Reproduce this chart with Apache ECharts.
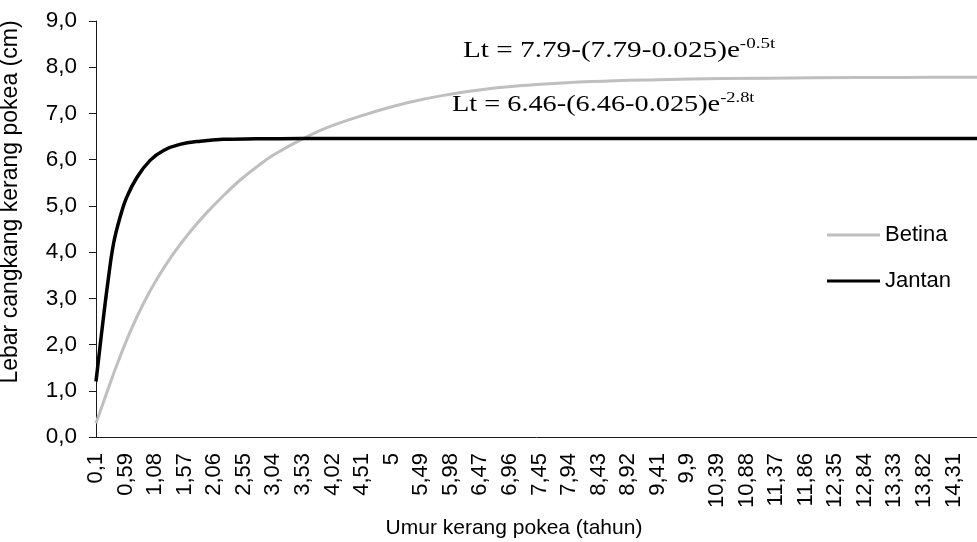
<!DOCTYPE html>
<html>
<head>
<meta charset="utf-8">
<script src="https://cdn.jsdelivr.net/npm/echarts@6/dist/echarts.min.js"></script>
<style>
  html, body { margin: 0; padding: 0; background: #fff; }
  #chart { width: 977px; height: 542px; }
</style>
</head>
<body>
<div id="chart"></div>
<script type="text/javascript">
    // x categories: age in years, 0,1 ... 14,7 in steps of 0,01
    var ageStart = 0.1, ageStep = 0.01, ageEnd = 14.7;
    var xTickLabels = ['0,1','0,59','1,08','1,57','2,06','2,55','3,04','3,53','4,02','4,51','5',
        '5,49','5,98','6,47','6,96','7,45','7,94','8,43','8,92','9,41','9,9','10,39','10,88',
        '11,37','11,86','12,35','12,84','13,33','13,82','14,31'];
    var yTicks = [0, 1, 2, 3, 4, 5, 6, 7, 8, 9];

    // values (age, width in cm)
    var betinaAge = [0.1, 0.28, 0.44, 0.66, 0.89, 1.11, 1.38, 1.66, 1.94, 2.21, 2.49, 2.77, 3.04,
        3.54, 3.98, 4.7, 5.26, 5.81, 6.64, 7.47, 8.3, 9.41, 10.5, 12, 13.5, 14.7];
    var betinaLen = [0.30, 0.96, 1.54, 2.26, 2.90, 3.42, 3.96, 4.44, 4.86, 5.22, 5.56, 5.85, 6.10,
        6.46, 6.72, 7.03, 7.23, 7.38, 7.54, 7.63, 7.69, 7.73, 7.755, 7.77, 7.78, 7.785];
    var jantanAge = [0.1, 0.22, 0.3, 0.39, 0.5, 0.61, 0.78, 1.0, 1.22, 1.49, 1.83, 2.21, 2.77, 3.5, 14.7];
    var jantanLen = [1.20, 2.55, 3.38, 4.18, 4.76, 5.19, 5.62, 5.99, 6.20, 6.33, 6.40, 6.44, 6.45, 6.46, 6.46];

    function fmt(v) { return String(+v.toFixed(2)).replace('.', ','); }

    var categories = [];
    var n = Math.round((ageEnd - ageStart) / ageStep);
    for (var i = 0; i <= n; i++) categories.push(fmt(ageStart + i * ageStep));

    function pairs(ages, vals) {
        return ages.map(function (a, k) { return [fmt(a), vals[k]]; });
    }

    var font = '"Liberation Sans", Arial, sans-serif';
    var serif = '"Liberation Serif", "Times New Roman", serif';

    function equation(main, sup) {
        return {
            text: '{b|' + main + '}{s|' + sup + '}',
            rich: {
                b: { fontFamily: serif, fontSize: 23, lineHeight: 28, fill: '#000' },
                s: { fontFamily: serif, fontSize: 15, lineHeight: 24, verticalAlign: 'top', fill: '#000' }
            }
        };
    }

    var myChart = echarts.init(document.getElementById('chart'));
    var option = {
        animation: false,
        grid: { left: 96, top: 21, right: 0, bottom: 105, containLabel: false, outerBoundsMode: 'none' },
        legend: {
            orient: 'vertical',
            left: 822,
            top: 219,
            icon: 'rect',
            itemWidth: 53,
            itemHeight: 3,
            itemGap: 24,
            textStyle: { fontFamily: font, fontSize: 22, color: '#000' },
            data: ['Betina', 'Jantan']
        },
        xAxis: {
            type: 'category',
            boundaryGap: false,
            data: categories,
            name: 'Umur kerang pokea (tahun)',
            nameLocation: 'middle',
            nameGap: 81,
            nameTextStyle: { fontFamily: font, fontSize: 21, color: '#000', padding: [0, 45, 0, 0] },
            axisLine: { lineStyle: { color: '#1a1a1a', width: 1 } },
            axisTick: { show: false },
            axisLabel: {
                rotate: 90,
                margin: 16,
                fontFamily: font,
                fontSize: 22,
                color: '#000',
                interval: function (idx, val) { return xTickLabels.indexOf(val) >= 0; }
            },
            splitLine: { show: false }
        },
        yAxis: {
            type: 'value',
            min: yTicks[0],
            max: yTicks[yTicks.length - 1],
            interval: 1,
            name: 'Lebar cangkang kerang pokea (cm)',
            nameLocation: 'middle',
            nameGap: 74,
            nameTextStyle: { fontFamily: font, fontSize: 23, color: '#000', padding: [0, 0, 0, 54] },
            axisLine: { show: true, lineStyle: { color: '#1a1a1a', width: 1 } },
            axisTick: { show: true, length: 7, lineStyle: { color: '#1a1a1a' } },
            axisLabel: {
                margin: 19,
                fontFamily: font,
                fontSize: 22.5,
                color: '#000',
                formatter: function (v) { return v.toFixed(1).replace('.', ','); }
            },
            splitLine: { show: false }
        },
        series: [
            {
                name: 'Betina',
                type: 'line',
                smooth: 0.4,
                symbol: 'none',
                lineStyle: { color: '#bfbfbf', width: 3 },
                itemStyle: { color: '#bfbfbf' },
                data: pairs(betinaAge, betinaLen)
            },
            {
                name: 'Jantan',
                type: 'line',
                smooth: 0.4,
                symbol: 'none',
                lineStyle: { color: '#000000', width: 3.5 },
                itemStyle: { color: '#000000' },
                data: pairs(jantanAge, jantanLen)
            }
        ],
        graphic: [
            {
                type: 'text',
                x: 463,
                y: 37,
                scaleX: 1.27,
                style: equation('Lt = 7.79-(7.79-0.025)e', '-0.5t')
            },
            {
                type: 'text',
                x: 452,
                y: 91,
                scaleX: 1.23,
                style: equation('Lt = 6.46-(6.46-0.025)e', '-2.8t')
            }
        ]
    };
    myChart.setOption(option);
</script>
</body>
</html>
